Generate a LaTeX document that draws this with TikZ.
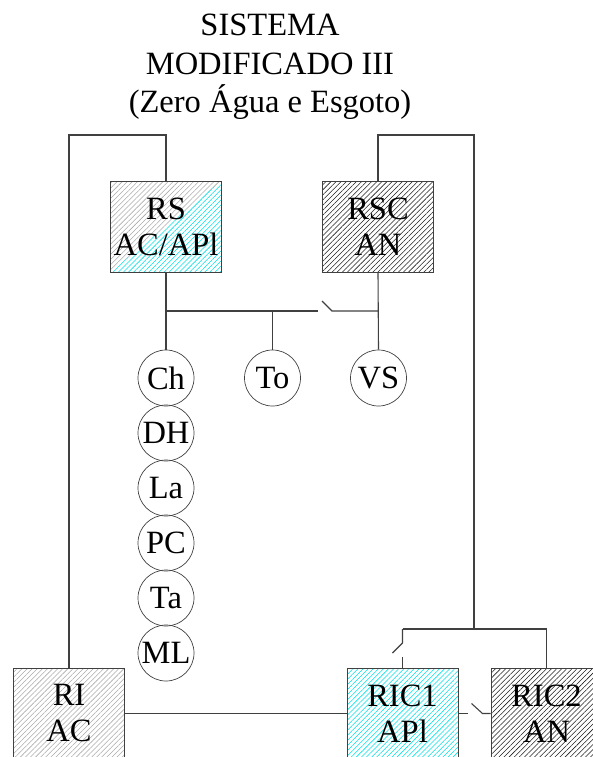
\documentclass[tikz,border=0pt]{standalone}
\usepackage{fontspec}
\setmainfont{Liberation Serif}
\usepackage{tikz}
\usetikzlibrary{positioning, calc, patterns.meta}
\definecolor{smWire}{RGB}{64, 64, 64}
\definecolor{smGray}{RGB}{170, 170, 170}
\definecolor{smCyan}{RGB}{0, 225, 230}
\definecolor{smDark}{RGB}{30, 30, 30}
\tikzset{
    base/.style={
        font=\fontsize{32.5pt}{36pt}\selectfont,
        align=center,
        inner sep=0pt
    },
    tank/.style={
        base,
        rectangle,
        draw=smWire,
        line width=1pt,
        minimum width=111pt,
        minimum height=91pt
    },
    hatch/.style={
        path picture={
            \fill[pattern={Lines[angle=45, distance=3.6pt, line width=0.55pt]}, pattern color=#1]
                (path picture bounding box.south west) rectangle (path picture bounding box.north east);
        }
    },
    halfhatch/.style 2 args={
        path picture={
            \fill[pattern={Lines[angle=45, distance=3.6pt, line width=0.55pt]}, pattern color=#1]
                (path picture bounding box.south west) -- (path picture bounding box.north west)
                -- (path picture bounding box.north east) -- cycle;
            \fill[pattern={Lines[angle=45, distance=3.6pt, line width=0.55pt]}, pattern color=#2]
                (path picture bounding box.south west) -- (path picture bounding box.south east)
                -- (path picture bounding box.north east) -- cycle;
        }
    },
    use/.style={
        base,
        circle,
        draw=smWire,
        line width=0.7pt,
        minimum size=56pt
    },
    wire/.style={
        line width=1.1pt,
        color=smWire
    }
}
\begin{document}
\begin{tikzpicture}[x=1pt, y=-1pt]
  \clip (0,0) rectangle (593,757);
  \useasboundingbox (0,0) rectangle (593,757);

  % Title
  \node[base, font=\fontsize{32.5pt}{38.5pt}\selectfont] (title) at (270,67)
      {SISTEMA\\MODIFICADO III\\(Zero Água e Esgoto)};

  % Reservoirs
  \node[tank, halfhatch={smGray}{smCyan}] (rs) at (166,226.5) {RS\\AC/APl};
  \node[tank, hatch=smDark] (rsc) at (378,226.5) {RSC\\AN};
  \node[tank, hatch=smGray] (ri) at (69,713.5) {RI\\AC};
  \node[tank, hatch=smCyan] (ric1) at (402.5,713.5) {RIC1\\APl};
  \node[tank, hatch=smDark] (ric2) at (546.5,713.5) {RIC2\\AN};

  % Points of use
  \foreach \name/\txt [count=\k from 0] in {ch/Ch, dh/DH, la/La, pc/PC, ta/Ta, ml/ML}
    \node[use] (\name) at (166,378+55*\k) {\txt};
  \node[use] (to) at (272.5,378) {To};
  \node[use] (vs) at (378.5,378) {VS};

  % Loops
  \coordinate (top) at (0,135);
  \coordinate (jR) at (474,629);
  \coordinate (bus) at (0,311);
  \draw[wire] (ri.north) -- (ri.north |- top) -| (rs.north);
  \draw[wire] (rsc.north) -- (rsc.north |- top) -| (jR);

  % Distribution from RS and RSC
  \draw[wire] (rs.south) -- (ch.north);
  \draw[wire] (rsc.south) -- (vs.north);
  \draw[wire] (rs.south |- bus) -- ++(152,0);
  \draw[wire] (rsc.south |- bus) -- ++(-46,0) -- ++(-10,-10);
  \draw[wire] (to.north) -- (to.north |- bus);

  % Feed of RIC1 and RIC2
  \draw[wire] (jR -| ric1.north) -- (jR -| ric2.north) -- (ric2.north);
  \draw[wire] (jR -| ric1.north) -- ++(0,14) -- ++(-10,10);
  \draw[wire] (ric1.north) -- ++(0,-11);

  % Links between lower reservoirs
  \draw[wire] (ri.east) -- (ric1.west);
  \draw[wire] (ric1.east) -- ++(9,0);
  \draw[wire] (ric2.west) -- ++(-8,0) -- ++(-11,-10);
\end{tikzpicture}
\end{document}
